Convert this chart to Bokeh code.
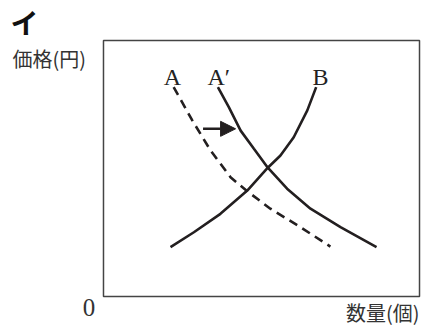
from bokeh.plotting import figure
from bokeh.models import Range1d, Label, Arrow, NormalHead, BoxAnnotation
from bokeh.embed import file_html
from bokeh.resources import INLINE

# Curve A (original demand, dashed)
a_x = [2.22, 2.81, 3.39, 4.02, 4.55, 5.28, 6.23, 7.18]
a_y = [8.18, 6.88, 5.70, 4.66, 4.11, 3.43, 2.71, 1.95]
# Curve A' (shifted demand)
ap_x = [3.62, 3.97, 4.34, 4.76, 5.20, 5.81, 6.55, 7.50, 8.64]
ap_y = [8.18, 7.39, 6.48, 5.77, 5.03, 4.21, 3.43, 2.71, 1.93]
# Curve B (supply)
b_x = [2.12, 2.86, 3.70, 4.55, 5.20, 5.60, 6.02, 6.45, 6.73]
b_y = [1.93, 2.51, 3.23, 4.14, 5.03, 5.51, 6.22, 7.27, 8.18]
# Shift arrow
arrow_x = [3.15, 4.18]
arrow_y = [6.55, 6.55]
# Axes box (quantity 0..10, price 0..10)
box_x = [0, 10]
box_y = [0, 10]

curve_labels = ["A", "A′", "B"]
title_text = "イ"
y_label = "価格(円)"
x_label = "数量(個)"
origin_label = "0"

INK = "#231f20"

p = figure(width=421, height=327, output_backend="svg", toolbar_location=None,
           x_axis_type=None, y_axis_type=None,
           x_range=Range1d(-3.259, 10.063), y_range=Range1d(-1.211, 11.5625),
           min_border=0)
p.grid.visible = False
p.outline_line_color = None
p.background_fill_color = "white"
p.border_fill_color = "white"

p.add_layout(BoxAnnotation(left=box_x[0], right=box_x[1], bottom=box_y[0], top=box_y[1],
                           fill_alpha=0, line_color="#444444", line_alpha=1.0, line_width=1.5))

p.line(a_x, a_y, line_color=INK, line_width=2.6, line_dash="9 6")
p.line(ap_x, ap_y, line_color=INK, line_width=2.6)
p.line(b_x, b_y, line_color=INK, line_width=2.6)

p.add_layout(Arrow(end=NormalHead(size=15, fill_color=INK, line_color=INK),
                   x_start=arrow_x[0], y_start=arrow_y[0],
                   x_end=arrow_x[1], y_end=arrow_y[1],
                   line_color=INK, line_width=2.6))

serif = "Liberation Serif"
cjk = "Noto Sans CJK JP"
lab_y = 8.59
p.add_layout(Label(x=2.18, y=lab_y, text=curve_labels[0], text_font=serif,
                   text_font_size="24px", text_color="#222", text_align="center",
                   text_baseline="alphabetic"))
p.add_layout(Label(x=3.29, y=lab_y, text=curve_labels[1], text_font=serif,
                   text_font_size="24px", text_color="#222", text_align="left",
                   text_baseline="alphabetic"))
p.add_layout(Label(x=6.87, y=lab_y, text=curve_labels[2], text_font=serif,
                   text_font_size="24px", text_color="#222", text_align="center",
                   text_baseline="alphabetic"))

p.add_layout(Label(x=-2.5, y=10.72, text=title_text, text_font=cjk,
                   text_font_style="bold", text_font_size="28px", text_color="#111",
                   text_align="center", text_baseline="middle"))
p.add_layout(Label(x=-2.88, y=9.30, text=y_label, text_font=cjk,
                   text_font_size="20px", text_color="#333",
                   text_align="left", text_baseline="middle"))
p.add_layout(Label(x=-0.46, y=-0.43, text=origin_label, text_font=serif,
                   text_font_size="25px", text_color="#333",
                   text_align="center", text_baseline="middle"))
p.add_layout(Label(x=10.0, y=-0.64, text=x_label, text_font=cjk,
                   text_font_size="20px", text_color="#333",
                   text_align="right", text_baseline="middle"))

open("out.html", "w").write(file_html(p, INLINE))
